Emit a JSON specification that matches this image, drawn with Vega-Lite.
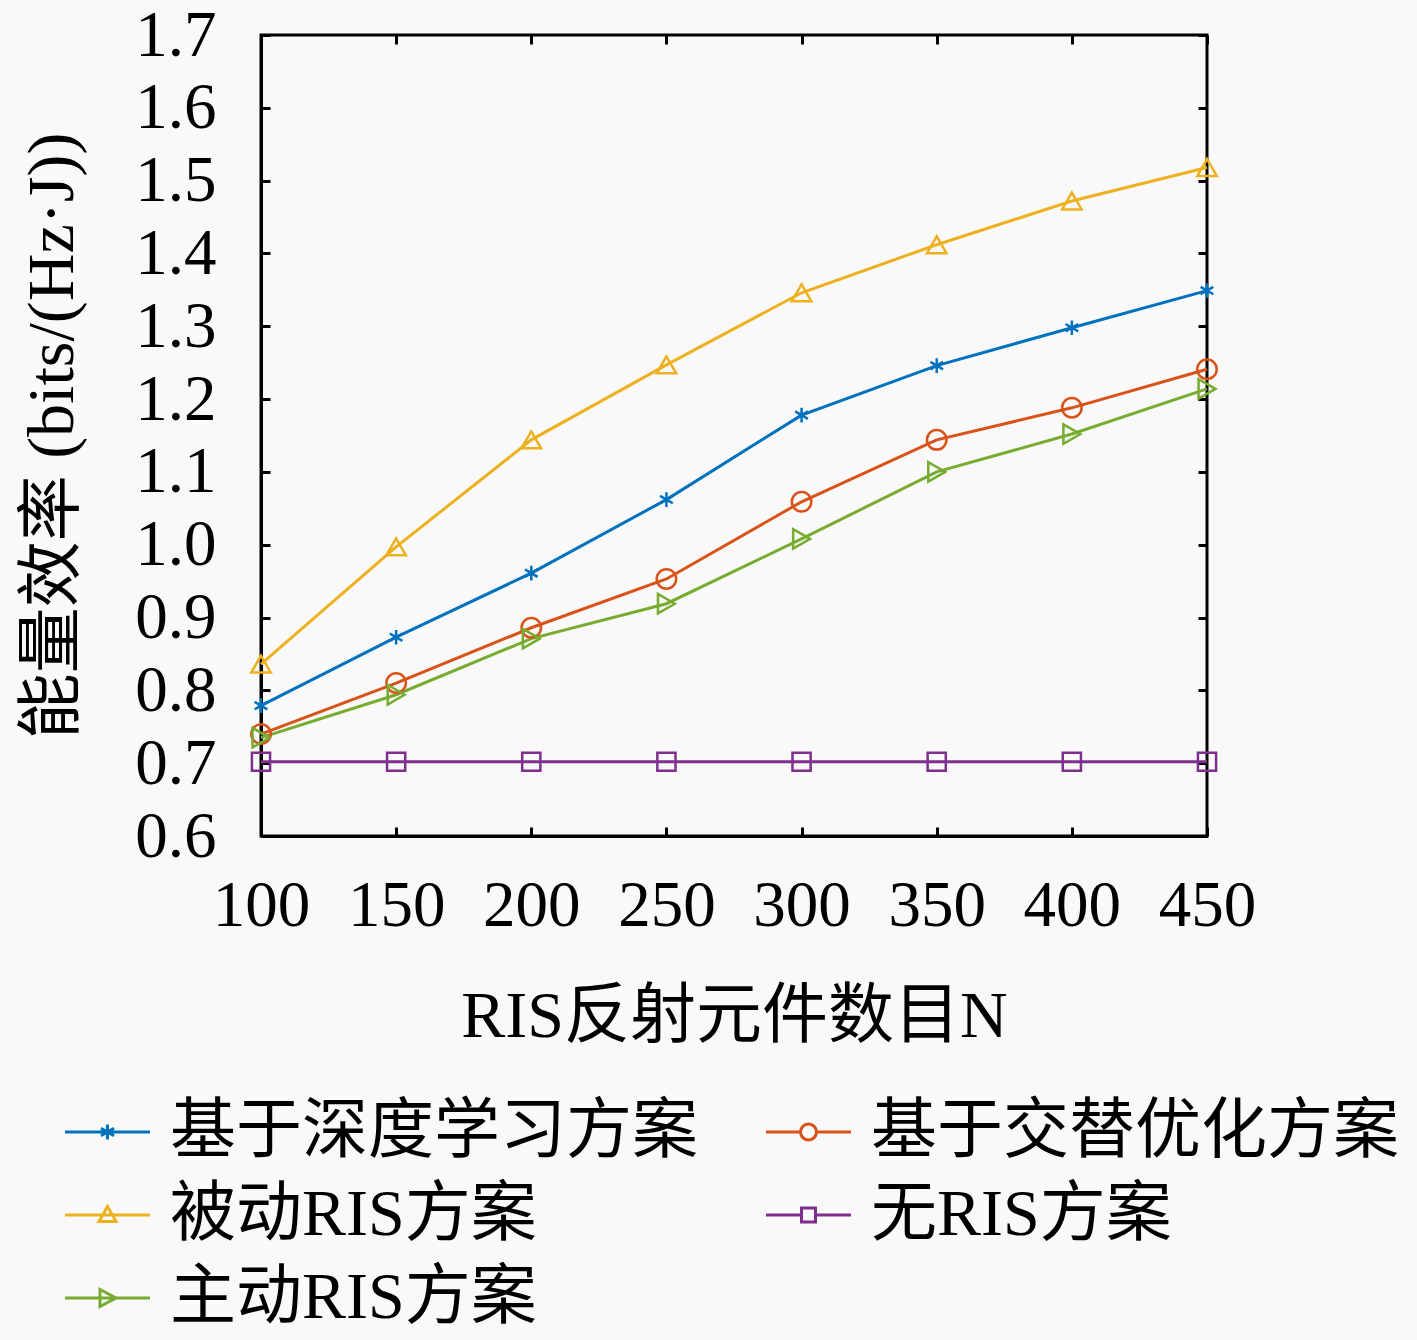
{
  "$schema": "https://vega.github.io/schema/vega-lite/v6.json",
  "width": 946,
  "height": 801,
  "autosize": "none",
  "padding": {"left": 261, "top": 35, "right": 210, "bottom": 504},
  "background": "#f9f9f9",
  "config": {
    "font": "Liberation Serif, Noto Sans CJK SC",
    "view": {"stroke": "black", "strokeWidth": 3},
    "point": {"filled": false, "strokeWidth": 2.5, "size": 380, "opacity": 1},
    "axis": {
      "grid": false,
      "domainColor": "black",
      "domainWidth": 3,
      "tickColor": "black",
      "tickWidth": 3,
      "tickSize": -9,
      "labelFlush": false,
      "labelOverlap": false,
      "labelFontSize": 65,
      "labelColor": "black",
      "titleFontSize": 66,
      "titleFontWeight": "normal",
      "titleColor": "black"
    }
  },
  "data": {
    "values": [
      {"N": 100, "scheme": "基于深度学习方案", "ee": 0.779},
      {"N": 150, "scheme": "基于深度学习方案", "ee": 0.873},
      {"N": 200, "scheme": "基于深度学习方案", "ee": 0.961},
      {"N": 250, "scheme": "基于深度学习方案", "ee": 1.062},
      {"N": 300, "scheme": "基于深度学习方案", "ee": 1.178},
      {"N": 350, "scheme": "基于深度学习方案", "ee": 1.246},
      {"N": 400, "scheme": "基于深度学习方案", "ee": 1.298},
      {"N": 450, "scheme": "基于深度学习方案", "ee": 1.349},
      {"N": 100, "scheme": "基于交替优化方案", "ee": 0.740},
      {"N": 150, "scheme": "基于交替优化方案", "ee": 0.810},
      {"N": 200, "scheme": "基于交替优化方案", "ee": 0.886},
      {"N": 250, "scheme": "基于交替优化方案", "ee": 0.953},
      {"N": 300, "scheme": "基于交替优化方案", "ee": 1.059},
      {"N": 350, "scheme": "基于交替优化方案", "ee": 1.144},
      {"N": 400, "scheme": "基于交替优化方案", "ee": 1.188},
      {"N": 450, "scheme": "基于交替优化方案", "ee": 1.241},
      {"N": 100, "scheme": "被动RIS方案", "ee": 0.836},
      {"N": 150, "scheme": "被动RIS方案", "ee": 0.997},
      {"N": 200, "scheme": "被动RIS方案", "ee": 1.144},
      {"N": 250, "scheme": "被动RIS方案", "ee": 1.247},
      {"N": 300, "scheme": "被动RIS方案", "ee": 1.346},
      {"N": 350, "scheme": "被动RIS方案", "ee": 1.412},
      {"N": 400, "scheme": "被动RIS方案", "ee": 1.472},
      {"N": 450, "scheme": "被动RIS方案", "ee": 1.518},
      {"N": 100, "scheme": "无RIS方案", "ee": 0.702},
      {"N": 150, "scheme": "无RIS方案", "ee": 0.702},
      {"N": 200, "scheme": "无RIS方案", "ee": 0.702},
      {"N": 250, "scheme": "无RIS方案", "ee": 0.702},
      {"N": 300, "scheme": "无RIS方案", "ee": 0.702},
      {"N": 350, "scheme": "无RIS方案", "ee": 0.702},
      {"N": 400, "scheme": "无RIS方案", "ee": 0.702},
      {"N": 450, "scheme": "无RIS方案", "ee": 0.702},
      {"N": 100, "scheme": "主动RIS方案", "ee": 0.735},
      {"N": 150, "scheme": "主动RIS方案", "ee": 0.794},
      {"N": 200, "scheme": "主动RIS方案", "ee": 0.871},
      {"N": 250, "scheme": "主动RIS方案", "ee": 0.919},
      {"N": 300, "scheme": "主动RIS方案", "ee": 1.008},
      {"N": 350, "scheme": "主动RIS方案", "ee": 1.100},
      {"N": 400, "scheme": "主动RIS方案", "ee": 1.152},
      {"N": 450, "scheme": "主动RIS方案", "ee": 1.214}
    ]
  },
  "layer": [
    {
      "encoding": {
        "x": {
          "field": "N",
          "type": "quantitative",
          "scale": {"domain": [100, 450], "nice": false},
          "axis": {"orient": "bottom", "values": [100, 150, 200, 250, 300, 350, 400, 450], "labelPadding": 47, "titlePadding": 46, "title": "RIS反射元件数目N"}
        },
        "y": {
          "field": "ee",
          "type": "quantitative",
          "scale": {"domain": [0.6, 1.7], "nice": false, "zero": false},
          "axis": {"orient": "left", "values": [0.6, 0.7, 0.8, 0.9, 1.0, 1.1, 1.2, 1.3, 1.4, 1.5, 1.6, 1.7], "format": ".1f", "labelPadding": 54, "titlePadding": 48, "title": "能量效率 (bits/(Hz·J))"}
        },
        "color": {
          "field": "scheme",
          "type": "nominal",
          "scale": {
            "domain": ["基于深度学习方案", "基于交替优化方案", "被动RIS方案", "无RIS方案", "主动RIS方案"],
            "range": ["#0072BD", "#D95319", "#EDB120", "#7E2F8E", "#77AC30"]
          },
          "legend": {
            "orient": "none",
            "legendX": -219,
            "legendY": 1064,
            "direction": "horizontal",
            "columns": 2,
            "title": null,
            "symbolSize": 400,
            "symbolStrokeWidth": 3,
            "labelOffset": 62,
            "labelFontSize": 66,
            "labelColor": "black",
            "labelLimit": 800,
            "columnPadding": 45,
            "rowPadding": 17,
            "encode": {
              "symbols": {
                "update": {
                  "fill": {"value": "transparent"},
                  "shape": {"signal": "datum.value === '基于深度学习方案' ? 'M-1,0H7.5M3.25,-0.75V0.75M2.6,-0.38L3.9,0.38M2.6,0.38L3.9,-0.38' : datum.value === '基于交替优化方案' ? 'M-1,0H2.45M4.05,0H7.5M4.05,0A0.8,0.8 0 1,1 2.45,0A0.8,0.8 0 1,1 4.05,0' : datum.value === '被动RIS方案' ? 'M-1,0H7.5M3.25,-0.85L4.1,0.65L2.4,0.65Z' : datum.value === '无RIS方案' ? 'M-1,0H2.55M3.95,0H7.5M2.55,-0.7H3.95V0.7H2.55Z' : 'M-1,0H7.5M2.5,-0.85L4.1,0L2.5,0.85Z'"}
                }
              }
            }
          }
        }
      },
      "layer": [
        {"mark": {"type": "line", "strokeWidth": 3}},
        {
          "transform": [{"filter": "datum.scheme === '基于深度学习方案'"}],
          "mark": {"type": "point", "shape": "M0,-0.75V0.75M-0.65,-0.38L0.65,0.38M-0.65,0.38L0.65,-0.38"}
        },
        {
          "transform": [{"filter": "datum.scheme === '基于交替优化方案'"}],
          "mark": {"type": "point", "shape": "circle"}
        },
        {
          "transform": [{"filter": "datum.scheme === '被动RIS方案'"}],
          "mark": {"type": "point", "shape": "triangle-up"}
        },
        {
          "transform": [{"filter": "datum.scheme === '无RIS方案'"}],
          "mark": {"type": "point", "shape": "square", "size": 330}
        },
        {
          "transform": [{"filter": "datum.scheme === '主动RIS方案'"}],
          "mark": {"type": "point", "shape": "triangle-right"}
        }
      ]
    },
    {
      "mark": {"type": "point", "opacity": 0},
      "encoding": {
        "x": {"field": "N", "type": "quantitative", "scale": {"domain": [100, 450], "nice": false}, "axis": {"orient": "top", "values": [100, 150, 200, 250, 300, 350, 400, 450], "labels": false, "title": null, "domain": false}},
        "y": {"field": "ee", "type": "quantitative", "scale": {"domain": [0.6, 1.7], "nice": false, "zero": false}, "axis": {"orient": "right", "values": [0.6, 0.7, 0.8, 0.9, 1.0, 1.1, 1.2, 1.3, 1.4, 1.5, 1.6, 1.7], "labels": false, "title": null, "domain": false}},
        "color": {"value": "transparent"}
      }
    }
  ],
  "resolve": {"axis": {"x": "independent", "y": "independent"}}
}
